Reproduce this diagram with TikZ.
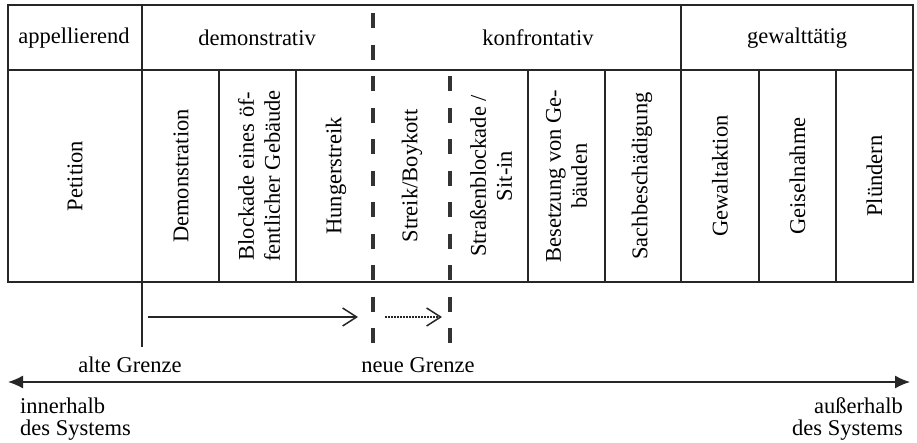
\documentclass[tikz,border=0pt]{standalone}
\usepackage{fontspec}
\setmainfont{Liberation Serif}
\usetikzlibrary{arrows.meta}
\tikzset{
  lbl/.style={font=\fontsize{22.5}{26}\selectfont, inner sep=0pt},
  vlbl/.style={lbl, rotate=90, align=center},
  frame/.style={draw=black!85, line width=1.2pt},
  oldline/.style={draw=black!85, line width=2.8pt},
  newline/.style={draw=black!80, line width=3.8pt, dash pattern=on 15pt off 16.5pt},
  shiftarrow/.style={draw=black!85, line width=1.5pt, -{Straight Barb[length=14pt,width=18pt,line width=1.5pt]}},
  dotarrow/.style={shiftarrow, dash pattern=on 1.5pt off 1.5pt},
  axis/.style={draw=black!85, line width=1.3pt, {Latex[length=15pt,width=13pt]}-{Latex[length=15pt,width=13pt]}},
  botlbl/.style={font=\fontsize{22.5}{22}\selectfont, inner sep=0pt}
}
\begin{document}
\begin{tikzpicture}[x=1pt,y=-1pt]
\useasboundingbox (0,0) rectangle (917,442);
\fill[white] (0,0) rectangle (917,442);
% table frame
\draw[frame] (8,5) rectangle (913,282);
\draw[frame] (8,70) -- (913,70);
\draw[frame] (681,5) -- (681,282);
\foreach \x in {219,296,528,605,759,836} \draw[frame] (\x,70) -- (\x,282);
% header labels
\node[lbl] (h1) at (74,38) {appellierend};
\node[lbl] (h2) at (257,38) {demonstrativ};
\node[lbl] (h3) at (538,38) {konfrontativ};
\node[lbl] (h4) at (797,38) {gewalttätig};
% column labels
\node[vlbl] (c1) at (75,176) {Petition};
\node[vlbl] (c2) at (181,176) {Demonstration};
\node[vlbl] (c3) at (259,176) {Blockade eines öf-\\fentlicher Gebäude};
\node[vlbl] (c4) at (336,176) {Hungerstreik};
\node[vlbl] (c5) at (412,176) {Streik/Boykott};
\node[vlbl] (c6) at (491,176) {Straßenblockade /\\Sit-in};
\node[vlbl] (c7) at (566.5,176) {Besetzung von Ge-\\bäuden};
\node[vlbl] (c8) at (642,176) {Sachbeschädigung};
\node[vlbl] (c9) at (720,176) {Gewaltaktion};
\node[vlbl] (c10) at (797.5,176) {Geiselnahme};
\node[vlbl] (c11) at (874.5,176) {Plündern};
% boundaries
\coordinate (oldtop) at (142,5);
\coordinate (oldbot) at (142,347);
\draw[oldline] (oldtop) -- (oldbot);
\coordinate (newAtop) at (373,13);
\coordinate (newAbot) at (373,343);
\coordinate (newBtop) at (450,76);
\coordinate (newBbot) at (450,343);
\draw[newline] (newAtop) -- (newAbot);
\draw[newline] (newBtop) -- (newBbot);
% shift arrows
\coordinate (s1) at (148,317);
\coordinate (s2) at (358,317);
\coordinate (s3) at (385,317);
\coordinate (s4) at (442,317);
\draw[shiftarrow] (s1) -- (s2);
\draw[dotarrow] (s3) -- (s4);
\node[botlbl] (alte) at (130,365) {alte Grenze};
\node[botlbl] (neue) at (418,365) {neue Grenze};
% axis
\coordinate (axL) at (8,382);
\coordinate (axR) at (910,382);
\draw[axis] (axL) -- (axR);
\node[botlbl, align=left, anchor=west] (inn) at (20,419) {innerhalb\\des Systems};
\node[botlbl, align=right, anchor=east] (aus) at (903,419) {außerhalb\\des Systems};
\end{tikzpicture}
\end{document}
